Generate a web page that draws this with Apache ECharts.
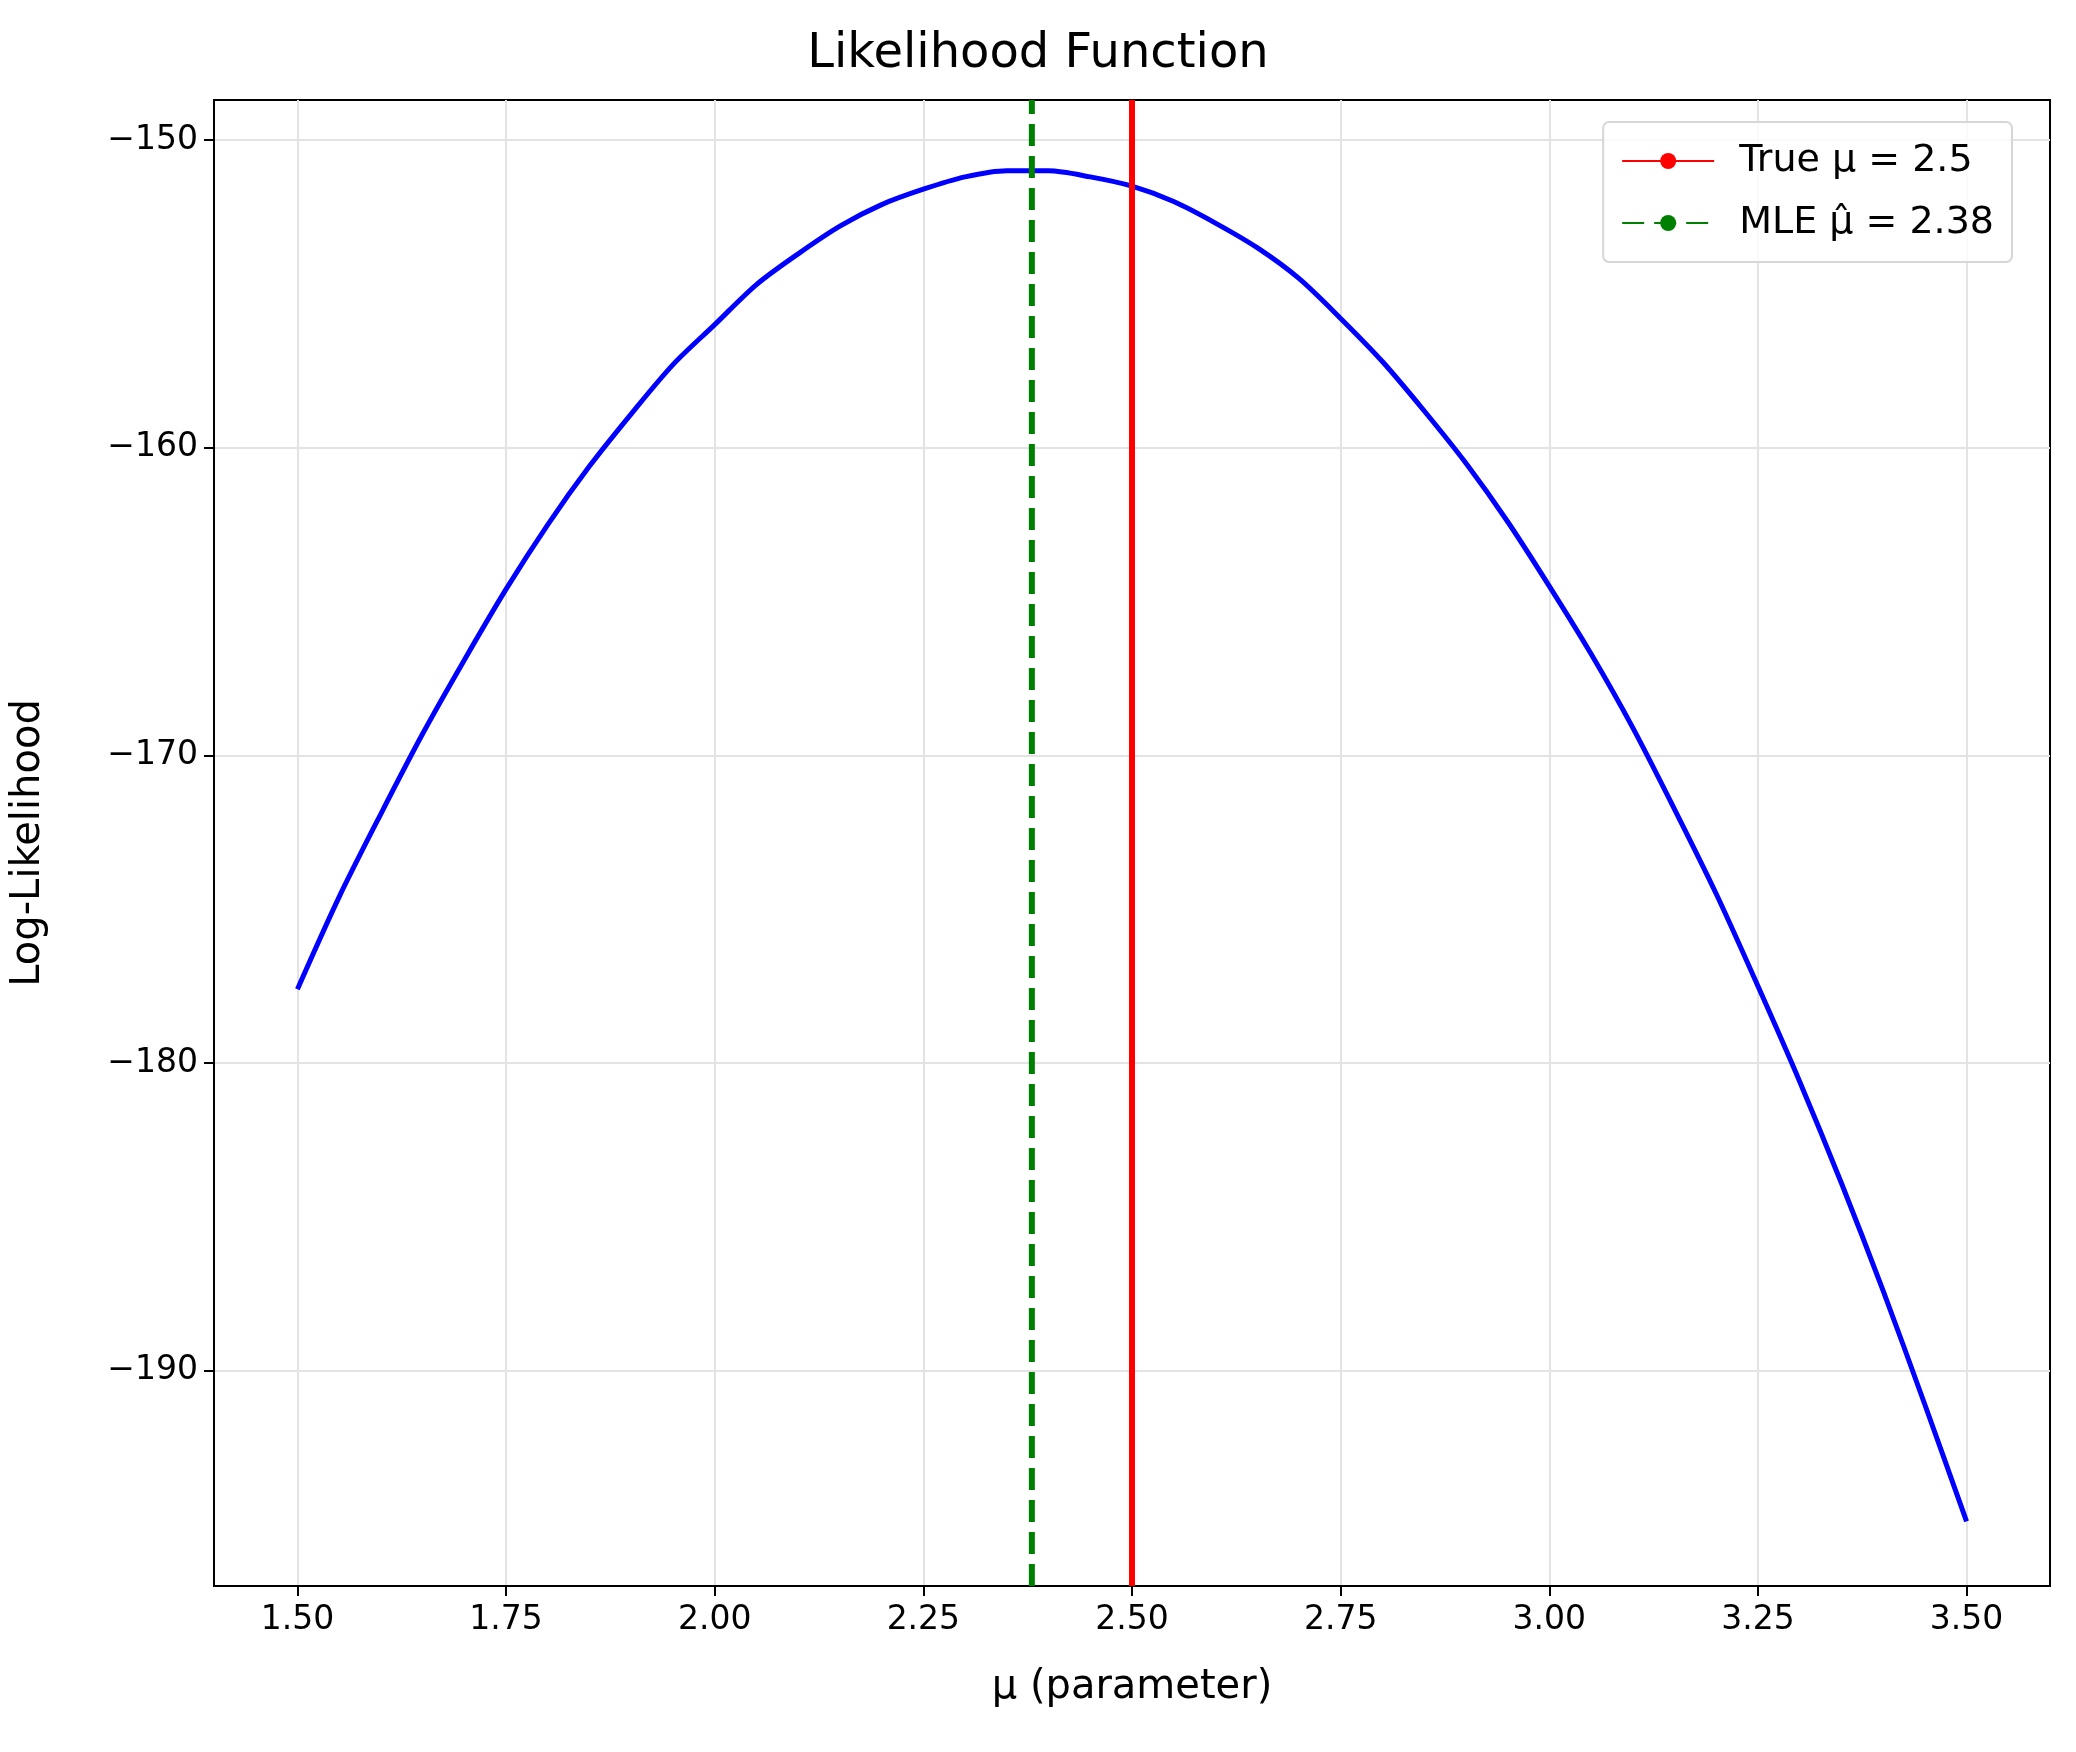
<!DOCTYPE html>
<html><head><meta charset="utf-8">
<script src="https://cdn.jsdelivr.net/npm/echarts@6/dist/echarts.min.js"></script>
<style>html,body{margin:0;padding:0;background:#fff}#c{width:2076px;height:1752px}</style>
</head><body><div id="c"></div>
<script>
const muValues = [1.50,1.55,1.60,1.65,1.70,1.75,1.80,1.85,1.90,1.95,2.00,2.05,2.10,2.15,2.20,2.25,2.30,2.35,2.40,2.45,2.50,2.55,2.60,2.65,2.70,2.75,2.80,2.85,2.90,2.95,3.00,3.05,3.10,3.15,3.20,3.25,3.30,3.35,3.40,3.45,3.50];
const logLik = [-177.6,-174.6,-171.9,-169.3,-166.9,-164.6,-162.5,-160.6,-158.9,-157.3,-156.0,-154.7,-153.7,-152.8,-152.1,-151.6,-151.2,-151.0,-151.0,-151.2,-151.5,-152.0,-152.7,-153.5,-154.5,-155.8,-157.2,-158.8,-160.5,-162.4,-164.5,-166.7,-169.1,-171.75,-174.5,-177.5,-180.6,-183.9,-187.4,-191.1,-194.9];
const trueMu = 2.5;
const mleMu = 2.38;
const xTicks = [1.50,1.75,2.00,2.25,2.50,2.75,3.00,3.25,3.50];
const yTicks = [-190,-180,-170,-160,-150];
const font = 'DejaVu Sans';
const chart = echarts.init(document.getElementById('c'));
const yMin = -197.0, yMax = -148.7;
chart.setOption({
  animation:false,
  textStyle:{fontFamily:font},
  title:{text:'Likelihood Function',left:'center',top:26,textStyle:{fontFamily:font,fontSize:48,fontWeight:'normal',color:'#000'}},
  grid:{left:214,right:26,top:100,bottom:166,show:true,borderColor:'#000',borderWidth:2},
  legend:{right:64,top:122,orient:'vertical',data:['True μ = 2.5','MLE μ̂ = 2.38'],
    itemWidth:92,itemHeight:20,itemGap:24,padding:[20,18,20,18],
    backgroundColor:'rgba(255,255,255,0.8)',borderColor:'#d6d6d6',borderWidth:2,borderRadius:6,
    textStyle:{fontFamily:font,fontSize:38,color:'#000',padding:[0,0,0,20]}},
  xAxis:{type:'value',min:1.4,max:3.6,name:'μ (parameter)',nameLocation:'middle',nameGap:82,
    nameTextStyle:{fontFamily:font,fontSize:40,color:'#000'},
    axisLine:{lineStyle:{color:'#000',width:2}},
    axisTick:{customValues:xTicks,length:10,lineStyle:{color:'#000',width:2}},
    axisLabel:{customValues:xTicks,fontFamily:font,fontSize:33,color:'#000',margin:18,formatter:v=>v.toFixed(2)},
    splitLine:{show:true,lineStyle:{color:'#e3e3e3',width:2}}},
  yAxis:{type:'value',min:yMin,max:yMax,name:'Log-Likelihood',nameLocation:'middle',nameGap:165,
    nameTextStyle:{fontFamily:font,fontSize:40,color:'#000'},
    axisLine:{lineStyle:{color:'#000',width:2}},
    axisTick:{customValues:yTicks,length:10,lineStyle:{color:'#000',width:2}},
    axisLabel:{customValues:yTicks,fontFamily:font,fontSize:33,color:'#000',margin:16,formatter:v=>'\u2212'+Math.abs(v)},
    splitLine:{show:true,lineStyle:{color:'#e3e3e3',width:2}}},
  series:[
    {type:'line',name:'Log-Likelihood',data:muValues.map((m,i)=>[m,logLik[i]]),symbol:'none',smooth:0.3,
      lineStyle:{color:'#0000ff',width:5},itemStyle:{color:'#0000ff'},z:3},
    {type:'line',name:'True μ = 2.5',data:[[trueMu,yMin],[trueMu,yMax]],symbol:'none',
      lineStyle:{color:'#ff0000',width:6},itemStyle:{color:'#ff0000'},z:4},
    {type:'line',name:'MLE μ̂ = 2.38',data:[[mleMu,yMin],[mleMu,yMax]],symbol:'none',
      lineStyle:{color:'#008000',width:6,type:[22,10]},itemStyle:{color:'#008000'},z:4}
  ]
});
</script></body></html>
